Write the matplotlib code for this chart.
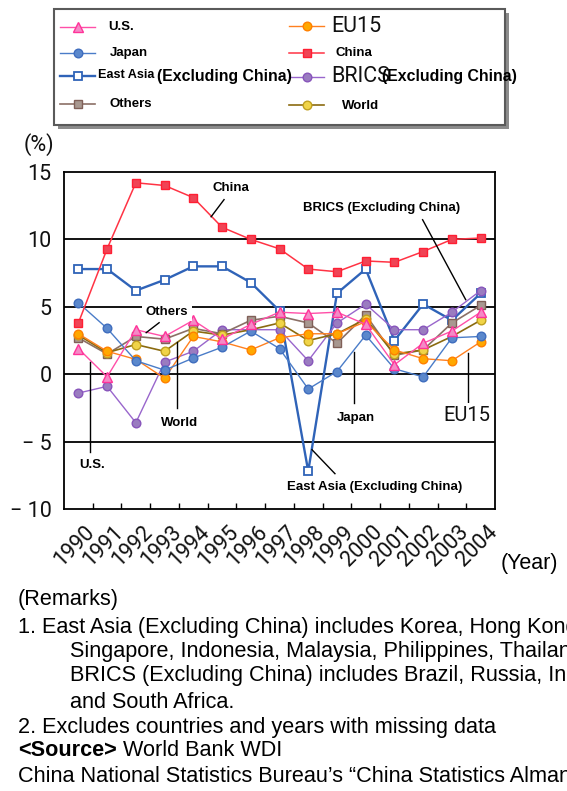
import matplotlib
matplotlib.use("Agg")
import matplotlib.pyplot as plt
from matplotlib.lines import Line2D
from matplotlib.patches import Rectangle
from matplotlib.transforms import ScaledTranslation

# ---- data: real GDP growth rate (%) ----
years = list(range(1990, 2005))
year_labels = [str(y) for y in years]

us = [1.9, -0.2, 3.3, 2.8, 4.0, 2.6, 3.7, 4.6, 4.5, 4.6, 3.7, 0.7, 2.3, 3.2, 4.6]
eu15 = [3.0, 1.7, 1.1, -0.3, 2.8, 2.4, 1.8, 2.7, 3.0, 3.0, 3.9, 1.8, 1.15, 1.0, 2.4]
japan = [5.3, 3.4, 1.0, 0.3, 1.2, 2.0, 3.2, 1.9, -1.1, 0.2, 2.9, 0.4, -0.2, 2.7, 2.8]
china = [3.8, 9.3, 14.2, 14.0, 13.1, 10.9, 10.0, 9.3, 7.8, 7.6, 8.4, 8.3, 9.1, 10.0, 10.1]
east_asia = [7.8, 7.8, 6.2, 7.0, 8.0, 8.0, 6.8, 4.7, -7.2, 6.0, 7.8, 2.5, 5.2, 4.0, 6.0]
brics = [-1.4, -0.9, -3.6, 0.9, 1.7, 3.3, 3.3, 3.3, 1.0, 3.8, 5.2, 3.3, 3.3, 4.6, 6.2]
others = [2.7, 1.5, 2.8, 2.6, 3.4, 3.0, 4.0, 4.3, 3.8, 2.3, 4.4, 1.4, 1.8, 3.8, 5.1]
world = [2.9, 1.6, 2.2, 1.7, 3.2, 2.9, 3.3, 3.8, 2.5, 3.0, 4.1, 1.5, 1.8, 2.8, 4.0]

y_ticks = [-10, -5, 0, 5, 10, 15]
y_tick_labels = ["\u2212 10", "\u2212 5", "0", "5", "10", "15"]

BOLD = dict(family="Liberation Sans", fontweight="bold")
THIN = dict(family="Roboto", fontweight="normal", color="#111111")
PLAIN = dict(family="Liberation Sans")

# ---- line styles ----
MS = 6.2
STY = {
    "us": dict(color="#FF4FA8", lw=1.0, marker="^", ms=MS + 0.4, mfc="#F48AC6", mec="#FF3399", mew=1.0),
    "eu15": dict(color="#FF8020", lw=1.0, marker="o", ms=MS, mfc="#FFA800", mec="#FF8000", mew=1.0),
    "japan": dict(color="#4A7CC8", lw=1.0, marker="o", ms=MS, mfc="#5B88CC", mec="#3F6DBE", mew=1.0),
    "china": dict(color="#FF3344", lw=1.1, marker="s", ms=MS, mfc="#F04455", mec="#FF1F33", mew=1.0),
    "east_asia": dict(color="#2F63B8", lw=1.7, marker="s", ms=MS, mfc="white", mec="#2F63B8", mew=1.3),
    "brics": dict(color="#9966CC", lw=1.0, marker="o", ms=MS, mfc="#9A7CC0", mec="#8855BB", mew=1.0),
    "others": dict(color="#8B7066", lw=1.2, marker="s", ms=MS, mfc="#A89890", mec="#806058", mew=1.0),
    "world": dict(color="#8B6B10", lw=1.2, marker="o", ms=MS, mfc="#F0D448", mec="#C0A020", mew=1.0),
}

W, H = 567, 791
fig = plt.figure(figsize=(W / 100, H / 100), dpi=100)
fig.patch.set_facecolor("white")

ax = fig.add_axes([64 / W, 1 - 509 / H, 431 / W, 337 / H])
ax.set_xlim(1989.5, 2004.5)
ax.set_ylim(-10, 15)

for yv in (-5, 0, 5, 10):
    ax.axhline(yv, color="black", lw=1.3, zorder=1)

order = [("east_asia", east_asia), ("brics", brics), ("others", others),
         ("world", world), ("eu15", eu15), ("japan", japan), ("us", us),
         ("china", china)]
for i, (key, vals) in enumerate(order):
    ax.plot(years, vals, zorder=3 + i, **STY[key])

for s in ax.spines.values():
    s.set_color("black")
    s.set_linewidth(1.3)

ax.set_yticks(y_ticks)
ax.set_yticklabels(y_tick_labels, fontsize=15.5, **THIN)
ax.tick_params(axis="y", length=0, pad=9)

ax.set_xticks(years)
ax.set_xticklabels(year_labels, fontsize=15.5, rotation=45, ha="right", va="top",
                   rotation_mode="anchor", **THIN)
ax.set_xticks([y + 0.5 for y in years[:-1]], minor=True)
ax.tick_params(axis="x", which="major", length=0, pad=9)
ax.tick_params(axis="x", which="minor", direction="in", length=4.5, width=1.0,
               color="black")
for lbl in ax.get_xticklabels():
    lbl.set_transform(lbl.get_transform() + ScaledTranslation(6 / 100, 0, fig.dpi_scale_trans))

# ---- callout labels with leader lines ----
box = dict(facecolor="white", edgecolor="none", pad=2.5)
callouts = [
    ("China", (1995.31, 13.84), [(1995.07, 12.95), (1994.62, 11.68)], BOLD, 9.5),
    ("BRICS (Excluding China)", (2000.56, 12.35), [(2001.98, 11.46), (2003.48, 5.53)], BOLD, 9.5),
    ("Others", (1993.09, 4.64), [(1992.81, 3.82), (1992.36, 3.08)], BOLD, 9.5),
    ("World", (1993.51, -3.6), [(1993.44, 2.41), (1993.44, -2.49)], BOLD, 9.5),
    ("U.S.", (1990.49, -6.71), [(1990.42, 0.93), (1990.42, -5.75)], BOLD, 9.5),
    ("Japan", (1999.66, -3.23), [(1999.59, 1.67), (1999.59, -2.11)], BOLD, 9.5),
    ("EU15", (2003.51, -3.08), [(2003.55, 1.59), (2003.55, -2.11)], THIN, 14.5),
    ("East Asia (Excluding China)", (2000.32, -8.35), [(1998.13, -5.6), (1998.93, -7.38)], BOLD, 9.5),
]
for text, (tx, ty), pts, font, size in callouts:
    (x1, y1), (x2, y2) = pts
    ax.plot([x1, x2], [y1, y2], color="black", lw=1.0, zorder=20)
    ax.text(tx, ty, text, ha="center", va="center", fontsize=size, bbox=box,
            zorder=21, **font)

# ---- overlay in pixel coordinates for legend and notes ----
ov = fig.add_axes([0, 0, 1, 1], zorder=5)
ov.set_xlim(0, W)
ov.set_ylim(H, 0)
ov.set_facecolor("none")
ov.axis("off")

# legend frame with drop shadow
ov.add_patch(Rectangle((58, 13), 451, 116, facecolor="#8C8C8C", edgecolor="none", zorder=1))
ov.add_patch(Rectangle((53.5, 9), 451, 116, facecolor="white", edgecolor="#5A5A5A",
                       lw=1.5, zorder=2))


def legend_sample(x0, x1, y, key):
    st = dict(STY[key])
    ov.add_line(Line2D([x0, x1], [y, y], color=st["color"], lw=st["lw"], zorder=3))
    ov.add_line(Line2D([(x0 + x1) / 2], [y], linestyle="none", marker=st["marker"],
                       ms=st["ms"], mfc=st["mfc"], mec=st["mec"], mew=st["mew"], zorder=4))


legend_sample(60, 95, 27, "us")
legend_sample(60, 95, 53, "japan")
legend_sample(60, 95, 76, "east_asia")
legend_sample(60, 95, 104, "others")
legend_sample(289, 324, 26, "eu15")
legend_sample(289, 324, 53, "china")
legend_sample(289, 324, 77, "brics")
legend_sample(289, 324, 105, "world")

ov.text(108, 27, "U.S.", va="center", fontsize=9.5, zorder=5, **BOLD)
ov.text(110, 53, "Japan", va="center", fontsize=9.5, zorder=5, **BOLD)
ov.text(98, 75, "East Asia", va="center", fontsize=9.1, zorder=5, **BOLD)
ov.text(157, 77, "(Excluding China)", va="center", fontsize=11.4, zorder=5, **BOLD)
ov.text(110, 104, "Others", va="center", fontsize=9.5, zorder=5, **BOLD)
ov.text(331, 26, "EU15", va="center", fontsize=15.5, zorder=5, **THIN)
ov.text(336, 53, "China", va="center", fontsize=9.5, zorder=5, **BOLD)
ov.text(331, 77, "BRICS", va="center", fontsize=15.5, zorder=5, **THIN)
ov.text(382, 77, "(Excluding China)", va="center", fontsize=11.4, zorder=6, **BOLD)
ov.text(342, 106, "World", va="center", fontsize=9.5, zorder=5, **BOLD)

# axis captions
ov.text(24, 145, "(%)", va="center", fontsize=15.5, **THIN)
ov.text(501, 563, "(Year)", va="center", fontsize=15.5, **PLAIN)

# remarks and source
FS = 15.6
ov.text(18, 600, "(Remarks)", va="center", fontsize=FS, **PLAIN)
ov.text(18, 627, "1. East Asia (Excluding China) includes Korea, Hong Kong, Taiwan,",
        va="center", fontsize=FS, **PLAIN)
ov.text(70, 651, "Singapore, Indonesia, Malaysia, Philippines, Thailand.",
        va="center", fontsize=FS, **PLAIN)
ov.text(70, 676, "BRICS (Excluding China) includes Brazil, Russia, India",
        va="center", fontsize=FS, **PLAIN)
ov.text(70, 702, "and South Africa.", va="center", fontsize=FS, **PLAIN)
ov.text(18, 727, "2. Excludes countries and years with missing data",
        va="center", fontsize=FS, **PLAIN)
src = ov.text(18, 751, "<Source>", va="center", fontsize=FS, **BOLD)
ov.annotate(" World Bank WDI", xy=(1, 0), xycoords=src, va="bottom", ha="left",
            fontsize=FS, **PLAIN)
ov.text(18, 777, "China National Statistics Bureau\u2019s \u201cChina Statistics Almanac\u201d",
        va="center", fontsize=FS, **PLAIN)

fig.savefig("out.png", dpi=100, facecolor="white")
